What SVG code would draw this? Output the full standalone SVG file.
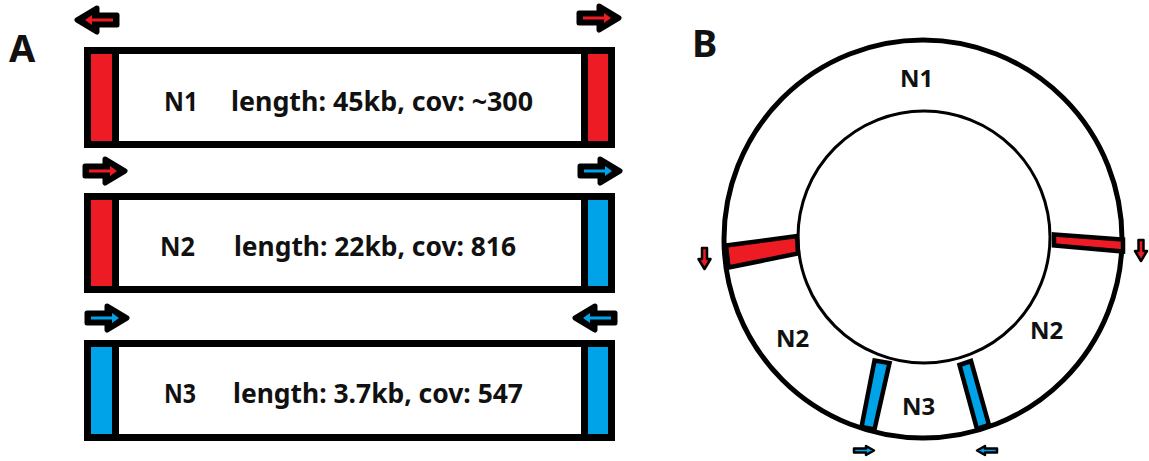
<svg xmlns="http://www.w3.org/2000/svg" width="1149" height="461" viewBox="0 0 1149 461">
  <style>
    .lbl { font-family: "Noto Sans", "Open Sans", "Liberation Sans", sans-serif; font-weight: bold; fill: #111; }
    .panel { font-size: 38px; }
    .info { font-size: 26px; }
    .ring { font-size: 24px; }
    .frame { fill: #fff; stroke: #000; stroke-width: 7; }
    .red { fill: #ed1c24; }
    .blue { fill: #00a2e8; }
    .div { fill: #000; }
    .circ { fill: none; stroke: #000; }
    .band { stroke: #000; stroke-width: 4.5; stroke-linejoin: miter; }
  </style>
  <defs>
    <!-- large block arrow, tail at x=0, tip at x=44, pointing right -->
    <g id="bigArrowBody">
      <path d="M2,-5 L22,-5 L22,-12 L42,0 L22,12 L22,5 L2,5 Z" fill="#000" stroke="#000" stroke-width="5" stroke-linejoin="round"/>
    </g>
    <path id="bigArrowCore" d="M6,-1.5 L27,-1.5 L27,-5 L34,0 L27,5 L27,1.5 L6,1.5 Z"/>
    <!-- small down arrow, top at y=0 -->
    <path id="downArrow" d="M-2.5,1 L2.5,1 L2.5,12 L6,12 L0,22 L-6,12 L-2.5,12 Z" stroke="#000" stroke-width="2.5" stroke-linejoin="round"/>
    <!-- small right arrow, tail at x=0 -->
    <path id="smallArrow" d="M1,-2 L13,-2 L13,-4.5 L21,0 L13,4.5 L13,2 L1,2 Z" stroke="#000" stroke-width="2.5" stroke-linejoin="round"/>
  </defs>

  <rect width="1149" height="461" fill="#fff"/>

  <!-- panel labels -->
  <text class="lbl panel" x="9" y="62">A</text>
  <text class="lbl panel" x="692" y="57">B</text>

  <!-- ===== Panel A: linear contigs ===== -->
  <g id="contig-n1">
    <rect class="frame" x="87.5" y="50.5" width="524" height="94"/>
    <rect class="red" x="91" y="54" width="21" height="87"/>
    <rect class="div" x="112" y="54" width="7" height="87"/>
    <rect class="div" x="581" y="54" width="7" height="87"/>
    <rect class="red" x="588" y="54" width="20" height="87"/>
    <text class="lbl info" x="164" y="111" textLength="34" lengthAdjust="spacingAndGlyphs">N1</text>
    <text class="lbl info" x="231" y="111" textLength="302" lengthAdjust="spacingAndGlyphs">length: 45kb, cov: ~300</text>
  </g>

  <g id="contig-n2">
    <rect class="frame" x="87.5" y="196.5" width="524" height="93"/>
    <rect class="red" x="91" y="200" width="21" height="86"/>
    <rect class="div" x="112" y="200" width="7" height="86"/>
    <rect class="div" x="581" y="200" width="7" height="86"/>
    <rect class="blue" x="588" y="200" width="20" height="86"/>
    <text class="lbl info" x="160" y="256" textLength="35" lengthAdjust="spacingAndGlyphs">N2</text>
    <text class="lbl info" x="234" y="256" textLength="282" lengthAdjust="spacingAndGlyphs">length: 22kb, cov: 816</text>
  </g>

  <g id="contig-n3">
    <rect class="frame" x="87.5" y="343.5" width="524" height="94"/>
    <rect class="blue" x="91" y="347" width="21" height="87"/>
    <rect class="div" x="112" y="347" width="7" height="87"/>
    <rect class="div" x="581" y="347" width="7" height="87"/>
    <rect class="blue" x="588" y="347" width="20" height="87"/>
    <text class="lbl info" x="164" y="403" textLength="32" lengthAdjust="spacingAndGlyphs">N3</text>
    <text class="lbl info" x="233" y="403" textLength="290" lengthAdjust="spacingAndGlyphs">length: 3.7kb, cov: 547</text>
  </g>

  <!-- end-orientation arrows of the contigs -->
  <g id="end-arrows">
    <g transform="translate(119,20) scale(-1,1)"><use href="#bigArrowBody"/><use href="#bigArrowCore" class="red"/></g>
    <g transform="translate(577,18)"><use href="#bigArrowBody"/><use href="#bigArrowCore" class="red"/></g>
    <g transform="translate(83,171)"><use href="#bigArrowBody"/><use href="#bigArrowCore" class="red"/></g>
    <g transform="translate(578,171)"><use href="#bigArrowBody"/><use href="#bigArrowCore" class="blue"/></g>
    <g transform="translate(85,318)"><use href="#bigArrowBody"/><use href="#bigArrowCore" class="blue"/></g>
    <g transform="translate(617,318) scale(-1,1)"><use href="#bigArrowBody"/><use href="#bigArrowCore" class="blue"/></g>
  </g>

  <!-- ===== Panel B: circular assembly ===== -->
  <g id="ring">
    <circle class="circ" cx="923" cy="239" r="199" stroke-width="5"/>
    <circle class="circ" cx="924" cy="237" r="126" stroke-width="3"/>
  </g>

  <g id="ring-junctions">
    <polygon class="band red" points="726,245.5 797,236 798,253.5 728.5,267.5"/>
    <polygon class="band red" points="1054,234.5 1123,239.5 1123,251.5 1054,245.5"/>
    <polygon class="band blue" points="874.5,360.5 889.5,363 874.5,429.5 861.5,427"/>
    <polygon class="band blue" points="959.5,365 971,361 989,425 977,429"/>
  </g>

  <g id="ring-arrows">
    <use href="#downArrow" class="red" transform="translate(704.5,247)"/>
    <use href="#downArrow" class="red" transform="translate(1141,239)"/>
    <use href="#smallArrow" class="blue" transform="translate(853,450.5)"/>
    <use href="#smallArrow" class="blue" transform="translate(998,450.5) scale(-1,1)"/>
  </g>

  <g id="ring-labels">
    <text class="lbl ring" x="900" y="87">N1</text>
    <text class="lbl ring" x="776" y="347">N2</text>
    <text class="lbl ring" x="1030" y="339">N2</text>
    <text class="lbl ring" x="902" y="415">N3</text>
  </g>
</svg>
